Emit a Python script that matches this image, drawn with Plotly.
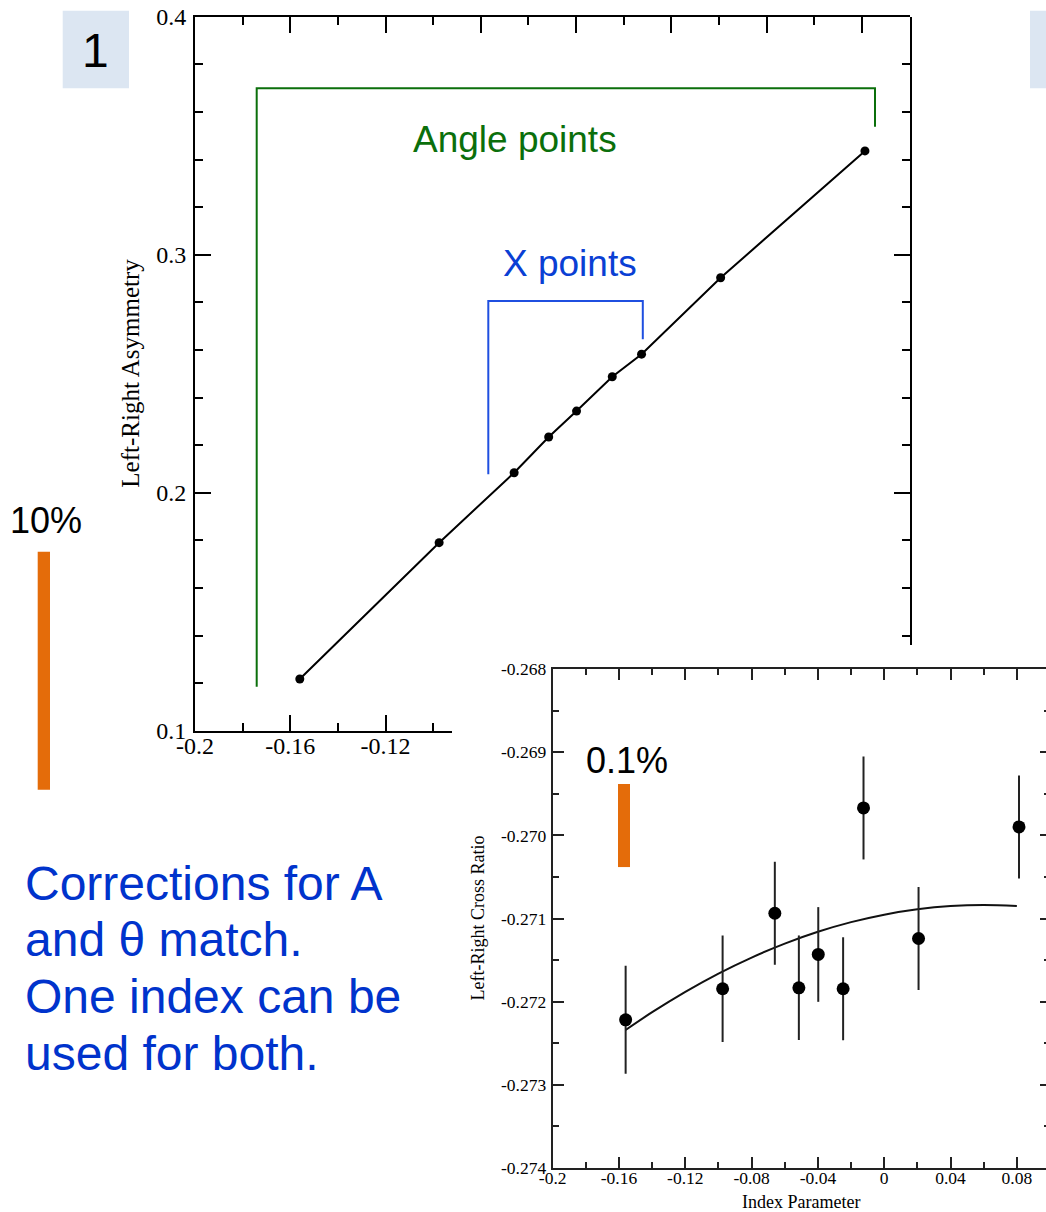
import plotly.graph_objects as go

W, H = 1046, 1212

# ---- data ----------------------------------------------------------------
index_param = [-0.156, -0.0975, -0.066, -0.0515, -0.0398, -0.0248, -0.0125, 0.0207, 0.0813]
asymmetry = [0.1217, 0.179, 0.2084, 0.2234, 0.2343, 0.2487, 0.2582, 0.2903, 0.3436]
cross_ratio = [-0.27222, -0.271846, -0.270937, -0.271834, -0.271433,
               -0.271846, -0.269669, -0.271241, -0.269897]
cross_err = [0.00065, 0.00064, 0.00062, 0.00063, 0.00057, 0.00062, 0.00062, 0.00062, 0.00062]

fit_x = [-0.156, -0.14, -0.12, -0.10, -0.08, -0.06, -0.04, -0.02, 0.0, 0.02, 0.04, 0.06, 0.08]
fit_y = [-0.272342, -0.272128, -0.271883, -0.271663, -0.271470, -0.271302, -0.271160,
         -0.271044, -0.270954, -0.270890, -0.270851, -0.270838, -0.270851]

top_x_ticks = [-0.2, -0.16, -0.12, -0.08, -0.04, 0.0, 0.04, 0.08]
top_x_labels = ["-0.2", "-0.16", "-0.12", "-0.08", "-0.04", "0", "0.04", "0.08"]
top_y_ticks = [0.1, 0.2, 0.3, 0.4]
top_y_labels = ["0.1", "0.2", "0.3", "0.4"]
bot_x_ticks = [-0.2, -0.16, -0.12, -0.08, -0.04, 0.0, 0.04, 0.08]
bot_x_labels = ["-0.2", "-0.16", "-0.12", "-0.08", "-0.04", "0", "0.04", "0.08"]
bot_y_ticks = [-0.274, -0.273, -0.272, -0.271, -0.270, -0.269, -0.268]
bot_y_labels = ["-0.274", "-0.273", "-0.272", "-0.271", "-0.270", "-0.269", "-0.268"]

scale_top = 0.10    # "10%" bar, in asymmetry units
scale_bot = 0.001   # "0.1%" bar, in cross-ratio units

# ---- page geometry (pixels) ---------------------------------------------
def fx(px):
    return px / W

def fy(py):
    return 1 - py / H

TOP_L, TOP_R, TOP_T, TOP_B = 195.0, 909.5, 16.7, 730.7
TOP_XR = [-0.2, 0.1]
TOP_YR = [0.1, 0.4]
INSET_L, INSET_T = 452.0, 645.0          # where the inset panel begins

BOT_L, BOT_R_FULL, BOT_T, BOT_B = 552.7, 1050.0, 669.3, 1167.7
BOT_XR_FULL = [-0.2, 0.1]
BOT_YR = [-0.274, -0.268]
bot_x_end = BOT_XR_FULL[0] + (BOT_XR_FULL[1] - BOT_XR_FULL[0]) * (W - BOT_L) / (BOT_R_FULL - BOT_L)

top_x2_end = TOP_XR[0] + (TOP_XR[1] - TOP_XR[0]) * (INSET_L - TOP_L) / (TOP_R - TOP_L)
top_y3_start = TOP_YR[0] + (TOP_YR[1] - TOP_YR[0]) * (TOP_B - INSET_T) / (TOP_B - TOP_T)

serif = "Liberation Serif"
sans = "Liberation Sans"

# ---- traces --------------------------------------------------------------
fig = go.Figure()

fig.add_trace(go.Scatter(
    x=index_param, y=asymmetry, xaxis="x", yaxis="y",
    mode="lines+markers", line=dict(color="black", width=2),
    marker=dict(color="black", size=9), showlegend=False, hoverinfo="skip"))
fig.add_trace(go.Scatter(x=[None], y=[None], xaxis="x2", yaxis="y",
                         showlegend=False, hoverinfo="skip"))
fig.add_trace(go.Scatter(x=[None], y=[None], xaxis="x", yaxis="y3",
                         showlegend=False, hoverinfo="skip"))

fig.add_trace(go.Scatter(
    x=fit_x, y=fit_y, xaxis="x3", yaxis="y4", mode="lines",
    line=dict(color="#111111", width=2, shape="spline"),
    showlegend=False, hoverinfo="skip"))
fig.add_trace(go.Scatter(
    x=index_param, y=cross_ratio, xaxis="x3", yaxis="y4", mode="markers",
    marker=dict(color="black", size=13),
    error_y=dict(type="data", array=cross_err, visible=True,
                 thickness=2, width=0, color="#222222"),
    showlegend=False, hoverinfo="skip"))
fig.add_trace(go.Scatter(x=[None], y=[None], xaxis="x3", yaxis="y5",
                         showlegend=False, hoverinfo="skip"))

# ---- axes ----------------------------------------------------------------
def top_axis(**kw):
    d = dict(showline=True, linecolor="black", linewidth=2, ticks="inside",
             ticklen=16, tickwidth=2, tickcolor="black", showgrid=False,
             zeroline=False, tickmode="array", automargin=False,
             tickfont=dict(family=serif, size=24, color="black"))
    d.update(kw)
    return d

def bot_axis(**kw):
    d = dict(showline=True, linecolor="#222222", linewidth=2, ticks="inside",
             ticklen=11, tickwidth=2, tickcolor="#222222", showgrid=False,
             zeroline=False, tickmode="array", automargin=False,
             tickfont=dict(family=serif, size=17.5, color="black"))
    d.update(kw)
    return d

minor_top_x = dict(ticks="inside", ticklen=8, tickwidth=2, tickcolor="black",
                   tickmode="linear", tick0=-0.2, dtick=0.02, showgrid=False)
minor_top_y = dict(ticks="inside", ticklen=8, tickwidth=2, tickcolor="black",
                   tickmode="linear", tick0=0.1, dtick=0.02, showgrid=False)

fig.update_layout(
    xaxis=top_axis(domain=[fx(TOP_L), fx(TOP_R)], range=TOP_XR, anchor="y",
                   side="top", tickvals=top_x_ticks, ticktext=top_x_labels,
                   showticklabels=False, minor=minor_top_x),
    yaxis=top_axis(domain=[fy(TOP_B), fy(TOP_T)], range=TOP_YR, anchor="x",
                   side="left", tickvals=top_y_ticks, ticktext=top_y_labels,
                   minor=minor_top_y, ticklabelstandoff=2),
    xaxis2=top_axis(domain=[fx(TOP_L), fx(INSET_L)], range=[TOP_XR[0], top_x2_end],
                    anchor="y", side="bottom", tickvals=top_x_ticks,
                    ticktext=top_x_labels, minor=minor_top_x, ticklabelstandoff=-8),
    yaxis3=top_axis(domain=[fy(INSET_T), fy(TOP_T)], range=[top_y3_start, TOP_YR[1]],
                    anchor="x", side="right", tickvals=top_y_ticks,
                    ticktext=top_y_labels, showticklabels=False, minor=minor_top_y),
    xaxis3=bot_axis(domain=[fx(BOT_L), 1.0], range=[BOT_XR_FULL[0], bot_x_end],
                    anchor="y4", side="bottom", mirror="ticks",
                    tickvals=bot_x_ticks, ticktext=bot_x_labels, ticklabelstandoff=-7,
                    minor=dict(ticks="inside", ticklen=6, tickwidth=2, tickcolor="#222222",
                               tickmode="linear", tick0=-0.2, dtick=0.02, showgrid=False)),
    yaxis4=bot_axis(domain=[fy(BOT_B), fy(BOT_T)], range=BOT_YR, anchor="x3",
                    side="left", tickvals=bot_y_ticks, ticktext=bot_y_labels,
                    ticklabelstandoff=1,
                    minor=dict(ticks="inside", ticklen=6, tickwidth=2, tickcolor="#222222",
                               tickmode="linear", tick0=-0.274, dtick=0.0005, showgrid=False)),
    yaxis5=bot_axis(range=BOT_YR, anchor="x3", overlaying="y4", side="right",
                    showline=False, ticklen=6, tickvals=bot_y_ticks,
                    showticklabels=False,
                    minor=dict(ticks="inside", ticklen=2, tickwidth=2, tickcolor="#222222",
                               tickmode="linear", tick0=-0.274, dtick=0.0005, showgrid=False)),
)

# ---- decorations -----------------------------------------------------------
shapes = []

def rect(x0, y0, x1, y1, color):
    shapes.append(dict(type="rect", xref="paper", yref="paper",
                       x0=fx(x0), x1=fx(x1), y0=fy(y1), y1=fy(y0),
                       fillcolor=color, line=dict(width=0), layer="below"))

def bracket(xl, xr, ytop, yl_bot, yr_bot, color):
    path = "M {:.5f},{:.5f} L {:.5f},{:.5f} L {:.5f},{:.5f} L {:.5f},{:.5f}".format(
        fx(xl), fy(yl_bot), fx(xl), fy(ytop), fx(xr), fy(ytop), fx(xr), fy(yr_bot))
    shapes.append(dict(type="path", xref="paper", yref="paper", path=path,
                       line=dict(color=color, width=2)))

# slide number tabs
rect(62.7, 10.7, 129.0, 88.3, "#dce6f2")
rect(1030.0, 10.7, 1046.0, 88.3, "#dce6f2")

# brackets grouping the points
bracket(256.7, 875.0, 88.3, 686.7, 126.7, "#0b6f0b")
bracket(488.3, 642.8, 301.0, 474.3, 339.3, "#1f4fe0")

# scale bars, sized from the axis scales
top_px_per_unit = (TOP_B - TOP_T) / (TOP_YR[1] - TOP_YR[0])
bot_px_per_unit = (BOT_B - BOT_T) / (BOT_YR[1] - BOT_YR[0])
bar_top_y0 = 551.7
rect(37.7, bar_top_y0, 50.0, bar_top_y0 + scale_top * top_px_per_unit, "#e46c0a")
bar_bot_y0 = 784.0
rect(618.0, bar_bot_y0, 630.0, bar_bot_y0 + scale_bot * bot_px_per_unit, "#e46c0a")

fig.update_layout(shapes=shapes)

annotations = []

def label(text, x, y, size, color, family=sans, xanchor="center", angle=0):
    annotations.append(dict(text=text, x=fx(x), y=fy(y), xref="paper", yref="paper",
                            xanchor=xanchor, yanchor="middle", showarrow=False,
                            textangle=angle,
                            font=dict(family=family, size=size, color=color)))

label("1", 95.0, 50.0, 48, "black")
label("Angle points", 515.0, 140.0, 37, "#0b6f0b")
label("X points", 569.5, 264.0, 37, "#0a3fd4")
label("10%", 46.0, 520.5, 36, "black")
label("0.1%", 627.0, 760.0, 36, "black")

body_lines = ["Corrections for A", "and \u03b8 match.", "One index can be", "used for both."]
for line, base in zip(body_lines, [900.0, 956.0, 1013.0, 1070.0]):
    label(line, 23.0, base - 0.35 * 48, 48, "#0033cc", xanchor="left")

label("Left-Right Asymmetry", 131.0, (TOP_T + TOP_B) / 2, 25, "black", family=serif, angle=-90)
label("Left-Right Cross Ratio", 477.0, (BOT_T + BOT_B) / 2, 18, "black", family=serif, angle=-90)
label("Index Parameter", (BOT_L + BOT_R_FULL) / 2, 1202.0, 18, "black", family=serif)

fig.update_layout(
    annotations=annotations,
    width=W, height=H,
    margin=dict(l=0, r=0, t=0, b=0, pad=0, autoexpand=False),
    paper_bgcolor="white",
    plot_bgcolor="rgba(0,0,0,0)",
    showlegend=False,
)

fig.write_html("out.html")
